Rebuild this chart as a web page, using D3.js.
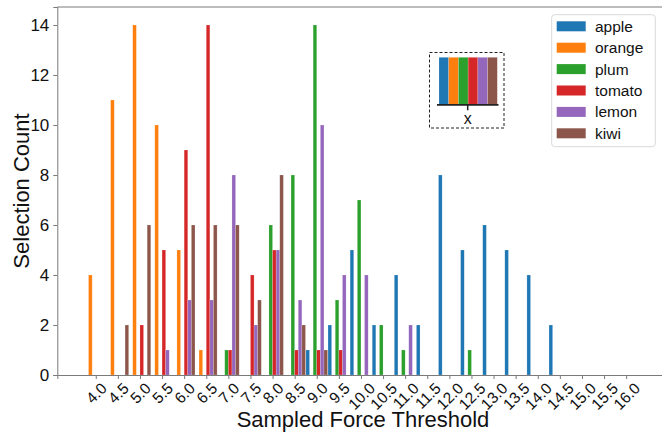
<!DOCTYPE html>
<html>
<head>
<meta charset="utf-8">
<script src="https://cdn.jsdelivr.net/npm/d3@7"></script>
<style>
  html, body { margin: 0; padding: 0; background: #fff; }
  svg { display: block; font-family: "Liberation Sans", Arial, Helvetica, sans-serif; }
</style>
</head>
<body>
<svg id="chart" width="662" height="432"></svg>
<script>
// ---- data ----
const seriesNames = ["apple", "orange", "plum", "tomato", "lemon", "kiwi"];
const seriesColors = ["#1f77b4", "#ff7f0e", "#2ca02c", "#d62728", "#9467bd", "#8c564b"];
const binCenters = [4.0, 4.5, 5.0, 5.5, 6.0, 6.5, 7.0, 7.5, 8.0, 8.5, 9.0, 9.5, 10.0,
                    10.5, 11.0, 11.5, 12.0, 12.5, 13.0, 13.5, 14.0, 14.5, 15.0, 15.5, 16.0];
const xTickLabels = ["4.0","4.5","5.0","5.5","6.0","6.5","7.0","7.5","8.0","8.5","9.0","9.5","10.0",
                     "10.5","11.0","11.5","12.0","12.5","13.0","13.5","14.0","14.5","15.0","15.5","16.0"];
const yTicks = [0, 2, 4, 6, 8, 10, 12, 14];
//                4.0 4.5 5.0 5.5 6.0 6.5 7.0 7.5 8.0 8.5 9.0 9.5 10 10.5 11 11.5 12 12.5 13 13.5 14 14.5 15 15.5 16
const apple  = [0,  0,  0,  0,  0,  0,  0,  0,  0,  0,  1,  2,  5,  2,  4,  2,  8,  5,  6,  5,  4,  2,  0,  0,  0];
const orange = [4, 11, 14, 10,  5,  1,  0,  0,  0,  0,  0,  0,  0,  0,  0,  0,  0,  0,  0,  0,  0,  0,  0,  0,  0];
const plum   = [0,  0,  0,  0,  0,  0,  1,  0,  6,  8, 14,  3,  7,  2,  1,  0,  0,  1,  0,  0,  0,  0,  0,  0,  0];
const tomato = [0,  0,  2,  5,  9, 14,  1,  4,  5,  1,  1,  1,  0,  0,  0,  0,  0,  0,  0,  0,  0,  0,  0,  0,  0];
const lemon  = [0,  0,  0,  1,  3,  3,  8,  2,  5,  3, 10,  4,  4,  0,  2,  0,  0,  0,  0,  0,  0,  0,  0,  0,  0];
const kiwi   = [0,  2,  6,  0,  6,  6,  6,  3,  8,  2,  1,  0,  0,  0,  0,  0,  0,  0,  0,  0,  0,  0,  0,  0,  0];
const seriesValues = [apple, orange, plum, tomato, lemon, kiwi];

const xTitle = "Sampled Force Threshold";
const yTitle = "Selection Count";
const insetLabel = "x";

(function draw() {
// ---- layout ----
const svg = d3.select("#chart");
const pLeft = 57.3, pTop = 7, pBottom = 375;
const pxPerUnit = 44.2;
const xMin = 3.13, xMax = 17.0;
const x = d3.scaleLinear().domain([xMin, xMax]).range([pLeft, pLeft + (xMax - xMin) * pxPerUnit]);
const y = d3.scaleLinear().domain([0, (pBottom - pTop) / 25]).range([pBottom, pTop]);

const groupWidth = 0.49; // data units for six bars
const inner = d3.scaleBand().domain(seriesNames).range([-groupWidth / 2, groupWidth / 2]).padding(0);

// bars
const barData = [];
seriesValues.forEach((vals, si) => {
  vals.forEach((v, bi) => {
    if (v > 0) barData.push({ s: seriesNames[si], c: seriesColors[si], xc: binCenters[bi], v });
  });
});
svg.append("g").selectAll("rect").data(barData).join("rect")
  .attr("x", d => x(d.xc + inner(d.s)))
  .attr("width", d => x(d.xc + inner(d.s) + inner.bandwidth()) - x(d.xc + inner(d.s)))
  .attr("y", d => y(d.v))
  .attr("height", d => y(0) - y(d.v))
  .attr("fill", d => d.c)
  .attr("stroke", "#fff").attr("stroke-opacity", 0.35).attr("stroke-width", 0.5);

// spines
const spineColor = "#7a7a7a";
const rightEdge = x(xMax);
svg.append("line").attr("x1", pLeft).attr("x2", rightEdge).attr("y1", pTop).attr("y2", pTop)
  .attr("stroke", spineColor).attr("stroke-width", 1);

// y axis
const yAxis = d3.axisLeft(y).tickValues(yTicks).tickFormat(d3.format("d")).tickSize(4).tickPadding(4);
const gy = svg.append("g").attr("transform", `translate(${pLeft},0)`).call(yAxis);
gy.select(".domain").attr("stroke", spineColor);
gy.selectAll(".tick line").attr("stroke", spineColor);
gy.selectAll(".tick text").attr("font-size", 17).attr("fill", "#111")
  .attr("font-family", "Liberation Sans, Arial, sans-serif");

// x axis
const xAxis = d3.axisBottom(x).tickValues(binCenters).tickFormat((d, i) => xTickLabels[i]).tickSize(4);
const gx = svg.append("g").attr("transform", `translate(0,${pBottom})`).call(xAxis);
gx.select(".domain").attr("stroke", spineColor);
gx.selectAll(".tick line").attr("stroke", spineColor);
const xfs = 15.5;
gx.selectAll(".tick text")
  .attr("font-size", xfs).attr("fill", "#111")
  .attr("font-family", "Liberation Sans, Arial, sans-serif")
  .attr("text-anchor", "middle")
  .attr("dominant-baseline", "central")
  .each(function () {
    const t = d3.select(this);
    const w = this.getComputedTextLength();
    const h = xfs * 0.72;
    const half = (w + h) / (2 * Math.SQRT2);
    t.attr("x", 0).attr("y", 0).attr("dy", null)
     .attr("transform", `translate(0,${6.5 + half}) rotate(-45)`);
  });

// axis titles
svg.append("text").attr("x", 363).attr("y", 427).attr("text-anchor", "middle")
  .attr("font-size", 22).attr("fill", "#111").text(xTitle);
svg.append("text").attr("transform", `translate(29,191) rotate(-90)`).attr("text-anchor", "middle")
  .attr("font-size", 22).attr("fill", "#111").text(yTitle);

// legend
const lg = svg.append("g");
lg.append("rect").attr("x", 551.7).attr("y", 14.7).attr("width", 103.6).attr("height", 132)
  .attr("rx", 3).attr("fill", "#fff").attr("fill-opacity", 0.8).attr("stroke", "#d9d9d9");
const ly = d3.scalePoint().domain(seriesNames).range([26.3, 133.3]);
seriesNames.forEach((n, i) => {
  lg.append("rect").attr("x", 556.7).attr("y", ly(n) - 5).attr("width", 29).attr("height", 10)
    .attr("fill", seriesColors[i]);
  lg.append("text").attr("x", 595).attr("y", ly(n)).attr("dominant-baseline", "central")
    .attr("font-size", 15.5).attr("fill", "#111").text(n);
});

// inset
const ig = svg.append("g");
ig.append("rect").attr("x", 429.5).attr("y", 52.5).attr("width", 74.5).attr("height", 75.5)
  .attr("fill", "none").attr("stroke", "#222").attr("stroke-width", 1).attr("stroke-dasharray", "3,2");
const ix = d3.scaleBand().domain(seriesNames).range([439, 497.3]);
const iy0 = 104.3, iyTop = 57.3;
ig.selectAll("rect.ib").data(seriesNames).join("rect").attr("class", "ib")
  .attr("x", d => ix(d)).attr("width", ix.bandwidth())
  .attr("y", iyTop).attr("height", iy0 - iyTop)
  .attr("fill", (d, i) => seriesColors[i])
  .attr("stroke", "#fff").attr("stroke-opacity", 0.35).attr("stroke-width", 0.5);
ig.append("line").attr("x1", 437).attr("x2", 498.5).attr("y1", iy0 + 0.5).attr("y2", iy0 + 0.5)
  .attr("stroke", "#222").attr("stroke-width", 1.8);
ig.append("line").attr("x1", 467.7).attr("x2", 467.7).attr("y1", iy0).attr("y2", iy0 + 6)
  .attr("stroke", "#222").attr("stroke-width", 1.5);
ig.append("text").attr("x", 467.7).attr("y", 118.5).attr("text-anchor", "middle")
  .attr("dominant-baseline", "central").attr("font-size", 16).attr("fill", "#111").text(insetLabel);
})();
</script>
</body>
</html>
